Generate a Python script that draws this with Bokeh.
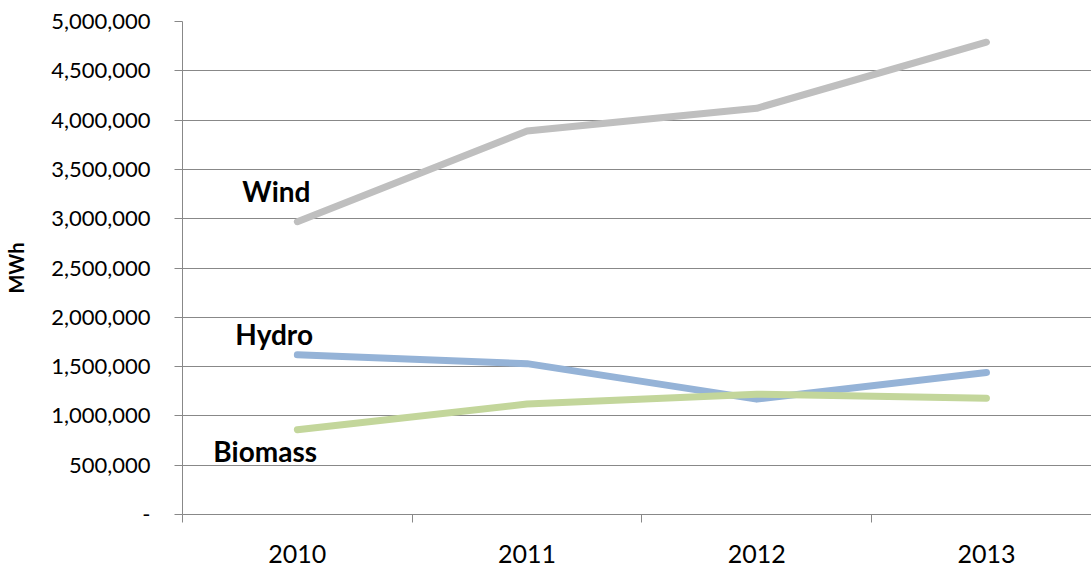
from bokeh.plotting import figure
from bokeh.models import Range1d, FixedTicker, SingleIntervalTicker, NumeralTickFormatter
from bokeh.core.properties import value
from bokeh.embed import file_html
from bokeh.resources import INLINE

years = ["2010", "2011", "2012", "2013"]
wind = [2970000, 3890000, 4120000, 4790000]
hydro = [1620000, 1530000, 1170000, 1440000]
biomass = [860000, 1120000, 1220000, 1180000]
series_names = ["Wind", "Hydro", "Biomass"]
y_label = "MWh"

xs = [i + 0.5 for i in range(len(years))]

p = figure(width=1091, height=570, output_backend="svg", toolbar_location=None,
           x_range=Range1d(0, 909 / 229.7), y_range=Range1d(0, 5000000),
           min_border_left=182, min_border_right=0, min_border_top=21, min_border_bottom=56)
p.outline_line_color = None
p.background_fill_color = "white"

grid_col = "#888888"
p.xgrid.grid_line_color = None
p.ygrid.grid_line_color = grid_col
p.ygrid.grid_line_width = 1

# x axis
p.xaxis.ticker = FixedTicker(ticks=xs, minor_ticks=list(range(len(years) + 1)))
p.xaxis.major_label_overrides = {x: y for x, y in zip(xs, years)}
p.xaxis.major_tick_line_color = None
p.xaxis.major_tick_out = 0
p.xaxis.major_tick_in = 0
p.xaxis.minor_tick_line_color = grid_col
p.xaxis.minor_tick_out = 8
p.xaxis.minor_tick_in = 0
p.xaxis.axis_line_color = grid_col
p.xaxis.major_label_standoff = 22
p.xaxis.major_label_text_font = "Lato"
p.xaxis.major_label_text_font_size = "25px"
p.xaxis.major_label_text_color = "black"

# y axis
p.yaxis.ticker = SingleIntervalTicker(interval=500000, num_minor_ticks=0)
p.yaxis.formatter = NumeralTickFormatter(format="0,0")
p.yaxis.major_label_overrides = {0: "-"}
p.yaxis.major_tick_line_color = grid_col
p.yaxis.major_tick_out = 8
p.yaxis.major_tick_in = 0
p.yaxis.minor_tick_line_color = None
p.yaxis.axis_line_color = grid_col
p.yaxis.major_label_standoff = 24
p.yaxis.major_label_text_font = "Lato"
p.yaxis.major_label_text_font_size = "22px"
p.yaxis.major_label_text_color = "black"
p.yaxis.axis_label = y_label
p.yaxis.axis_label_text_font = "Lato"
p.yaxis.axis_label_text_font_style = "bold"
p.yaxis.axis_label_text_font_size = "20px"
p.yaxis.axis_label_text_color = "black"
p.yaxis.axis_label_standoff = 20

colors = ["#BFBFBF", "#95B3D7", "#C3D69B"]
data = [wind, hydro, biomass]
offsets = [(-55, -31), (-62, -21), (-84, 21)]

for vals, col in zip(data, colors):
    p.line(xs, vals, line_color=col, line_width=7, line_cap="round", line_join="round")

for name, vals, (dx, dy) in zip(series_names, data, offsets):
    p.text([xs[0]], [vals[0]], text=[name], x_offset=dx, y_offset=dy,
           text_font=value("Lato"), text_font_style="bold", text_font_size="28px",
           text_color="black", text_align="left", text_baseline="middle")

open("out.html", "w").write(file_html(p, INLINE))
